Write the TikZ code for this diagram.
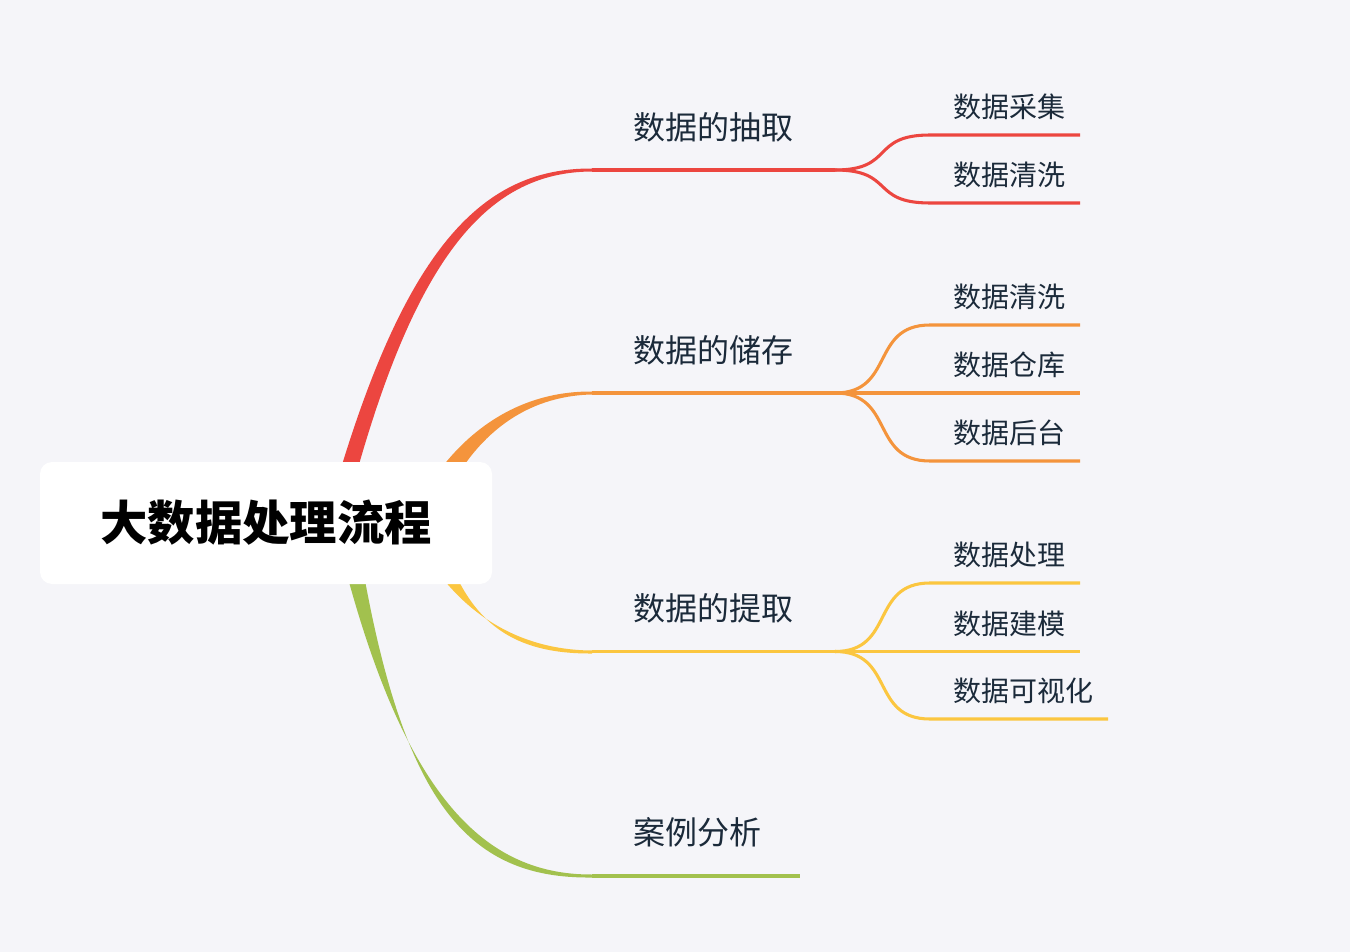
\documentclass[tikz,border=0pt]{standalone}
\usepackage{fontspec}
\usetikzlibrary{calc}
\newfontfamily\cjk{Noto Sans CJK SC}
\definecolor{bg}{HTML}{F5F5F9}
\definecolor{cr}{HTML}{EC4640}
\definecolor{co}{HTML}{F4943C}
\definecolor{cy}{HTML}{FBC640}
\definecolor{cg}{HTML}{A2C14E}
\definecolor{tx}{HTML}{1B2A3A}
\begin{document}
\begin{tikzpicture}[x=0.75pt,y=-0.75pt,
  main/.style={anchor=west,font=\cjk\fontsize{24}{27}\selectfont,text=tx,inner sep=0},
  sub/.style={anchor=west,font=\cjk\fontsize{21}{24}\selectfont,text=tx,inner sep=0},
  twig/.style={line width=2.3pt}]
\fill[bg] (0,0) rectangle (1350,952);
\useasboundingbox (0,0) rectangle (1350,952);
% tapered branches
\fill[cr] (326,520) .. controls (400,250) and (480,168) .. (592,168.5) -- (592,171.5) .. controls (485,172) and (410,260) .. (344,520) -- cycle;
\fill[co] (420,500) .. controls (460,430) and (520,391) .. (592,391.5) -- (592,394.5) .. controls (525,396) and (475,435) .. (444,500) -- cycle;
\fill[cy] (420,545) .. controls (460,615) and (520,650) .. (592,650.5) -- (592,653.5) .. controls (515,654) and (470,625) .. (444,545) -- cycle;
\fill[cg] (338,540) .. controls (400,790) and (480,875) .. (592,874.5) -- (592,877.5) .. controls (465,879) and (400,800) .. (358,540) -- cycle;
% root
\node[fill=white,rounded corners=9pt,minimum width=339pt,minimum height=91.5pt,inner sep=0,
  font=\cjk\fontsize{35.5}{38}\selectfont\bfseries] (root) at (266,523) {大数据处理流程};
% main lines
\coordinate (a0) at (592,170); \coordinate (a1) at (835,170);
\coordinate (b0) at (592,393); \coordinate (b1) at (835,393);
\coordinate (c0) at (592,651.5); \coordinate (c1) at (835,651.5);
\coordinate (d0) at (592,876); \coordinate (d1) at (800,876);
\draw[cr,twig] (a0)--(a1); \draw[co,twig] (b0)--(b1); \draw[cy,twig] (c0)--(c1); \draw[cg,twig] (d0)--(d1);
\node[main] (la) at (633,127) {数据的抽取};
\node[main] (lb) at (633,350) {数据的储存};
\node[main] (lc) at (633,608) {数据的提取};
\node[main] (ld) at (633,832) {案例分析};
% sub branches
\foreach \col/\src/\y/\e/\t/\n in {cr/a1/135/1080/数据采集/s1, cr/a1/203/1080/数据清洗/s2,
  co/b1/325/1080/数据清洗/s3, co/b1/393/1080/数据仓库/s4, co/b1/461/1080/数据后台/s5,
  cy/c1/583/1080/数据处理/s6, cy/c1/651.5/1080/数据建模/s7, cy/c1/719/1108/数据可视化/s8}{
  \coordinate (\n a) at (930,\y); \coordinate (\n b) at (\e,\y);
  \draw[\col,twig] (\src) .. controls ($(\src)+(60,0)$) and (870,\y) .. (\n a) -- (\n b);
  \node[sub] at (953,\y-28) {\t};
}
\end{tikzpicture}
\end{document}
